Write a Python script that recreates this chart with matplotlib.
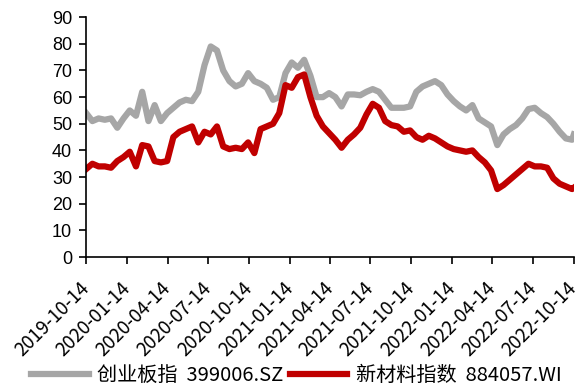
import pandas as pd
import matplotlib.pyplot as plt
import matplotlib.dates as mdates

# biweekly closes, 2019-10-14 .. 2022-10-10, plus the last day
dates = list(pd.date_range('2019-10-14', periods=79, freq='14D')) + [pd.Timestamp('2022-10-14')]

cyb = [54, 51, 52, 51.5, 52, 48.5, 52, 55, 53, 62,
       51, 57, 51, 54, 56, 58, 59, 58.5, 62, 72,
       79, 77.5, 70, 66, 64, 65, 69, 66, 65, 63.5,
       59, 60, 69, 73, 71, 74, 68, 60, 60, 61.5,
       60, 56.5, 61, 61, 60.7, 62, 63, 62, 59, 56,
       56, 56, 56.5, 62, 64, 65, 66, 64.5, 61, 58.5,
       56.5, 55, 57, 52, 50.5, 49, 42, 46, 48, 49.5,
       52, 55.5, 56, 54, 52.5, 50, 47, 44.5, 44, 46]

xcl = [33, 35, 34, 34, 33.5, 36, 37.5, 39.5, 34, 42,
       41.5, 36, 35.5, 36, 45, 47, 48, 49, 43, 47,
       46, 49, 41.5, 40.5, 41, 40.5, 43, 39, 48, 49,
       50, 54, 64.5, 63.5, 67.5, 68.5, 60, 53, 49, 46.5,
       44, 41, 44, 46, 48.5, 53.5, 57.5, 56, 51, 49.5,
       49, 47, 47.5, 45, 44, 45.5, 44.5, 43, 41.5, 40.5,
       40, 39.5, 40, 37.5, 35.5, 32.5, 25.5, 27, 29, 31,
       33, 35, 34, 34, 33.5, 29.5, 27.5, 26.5, 25.5, 26]

names = ['创业板指  399006.SZ', '新材料指数  884057.WI']
colors = ['#A6A6A6', '#C00000']
tick_days = ['2019-10-14', '2020-01-14', '2020-04-14', '2020-07-14', '2020-10-14',
             '2021-01-14', '2021-04-14', '2021-07-14', '2021-10-14', '2022-01-14',
             '2022-04-14', '2022-07-14', '2022-10-14']

cjk = ['Noto Sans CJK SC', 'DejaVu Sans']

fig = plt.figure(figsize=(5.82, 3.90), dpi=100)
ax = fig.add_axes([0.148, 0.341, 0.838, 0.615])

ax.plot(dates, cyb, color=colors[0], lw=4.5, label=names[0], solid_joinstyle='round')
ax.plot(dates, xcl, color=colors[1], lw=4.5, label=names[1], solid_joinstyle='round')

ax.set_ylim(0, 90)
ax.set_yticks(range(0, 91, 10))
ax.set_xlim(pd.Timestamp(tick_days[0]), pd.Timestamp(tick_days[-1]))
ax.set_xticks(pd.to_datetime(tick_days))
ax.xaxis.set_major_formatter(mdates.DateFormatter('%Y-%m-%d'))

for s in ['top', 'right']:
    ax.spines[s].set_visible(False)
for s in ['left', 'bottom']:
    ax.spines[s].set_linewidth(1.2)
ax.tick_params(direction='out', length=5, width=1.2)
ax.tick_params(axis='y', pad=5)
ax.tick_params(axis='x', pad=15)

for lb in ax.get_yticklabels():
    lb.set_family('Liberation Sans')
    lb.set_fontsize(13)
for lb in ax.get_xticklabels():
    lb.set_family(cjk)
    lb.set_fontsize(13.5)
    lb.set_rotation(45)
    lb.set_ha('right')
    lb.set_va('center')
    lb.set_rotation_mode('anchor')

fig.legend(loc='center', bbox_to_anchor=(0.509, 0.038), ncol=2, frameon=False,
           prop={'family': cjk, 'size': 14.5},
           handlelength=2.85, columnspacing=0.35, handletextpad=0.4,
           borderpad=0, borderaxespad=0)

fig.savefig('out.png', dpi=100)
